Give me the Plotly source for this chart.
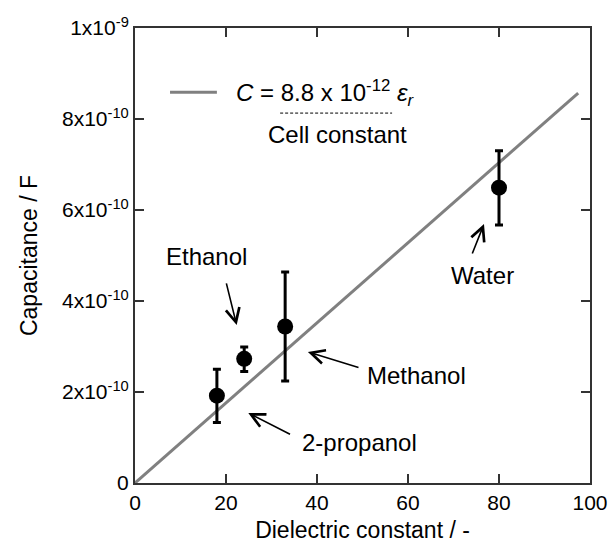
import plotly.graph_objects as go

# ---------------- data ----------------
solvents = ["2-propanol", "Ethanol", "Methanol", "Water"]
dielectric = [18, 24, 33, 80]
capacitance = [1.92e-10, 2.73e-10, 3.44e-10, 6.49e-10]
err_plus = [0.58e-10, 0.26e-10, 1.20e-10, 0.81e-10]
err_minus = [0.59e-10, 0.28e-10, 1.20e-10, 0.82e-10]

cell_constant = 8.8e-12
fit_x = [0, 97.4]
fit_y = [cell_constant * v for v in fit_x]

x_ticks = [0, 20, 40, 60, 80, 100]
y_ticks = [0, 2e-10, 4e-10, 6e-10, 8e-10, 1e-9]
y_ticktext = ["0", "2x10<sup>-10</sup>", "4x10<sup>-10</sup>", "6x10<sup>-10</sup>",
              "8x10<sup>-10</sup>", "1x10<sup>-9</sup>"]

FONT = "Liberation Sans, Arial, sans-serif"
AX = "#333333"

fig = go.Figure()
fig.add_trace(go.Scatter(
    x=fit_x, y=fit_y, mode="lines",
    line=dict(color="#808080", width=3), showlegend=False, hoverinfo="skip"))
fig.add_trace(go.Scatter(
    x=dielectric, y=capacitance, mode="markers", text=solvents,
    marker=dict(color="black", size=16),
    error_y=dict(type="data", symmetric=False, array=err_plus, arrayminus=err_minus,
                 color="black", thickness=3, width=4),
    showlegend=False))

# legend-like key
fig.add_shape(type="line", xref="x", yref="y", x0=7.7, x1=18.0, y0=0.8586e-9, y1=0.8586e-9,
              line=dict(color="#808080", width=3))
fig.add_shape(type="line", xref="x", yref="y", x0=31.9, x1=56.5, y0=0.813e-9, y1=0.813e-9,
              line=dict(color="black", width=1, dash="3px,2px"))

annos = []
annos.append(dict(x=21.8, y=0.857e-9, xanchor="left", yanchor="middle",
                  text="<i>C</i> = 8.8 x 10<sup>-12</sup> <i>ε<sub>r</sub></i>",
                  font=dict(size=24, color="black", family=FONT), showarrow=False))
annos.append(dict(x=44.5, y=0.765e-9, xanchor="center", yanchor="middle",
                  text="Cell constant",
                  font=dict(size=24, color="black", family=FONT), showarrow=False))

# labels
labels = [
    ("Ethanol", 15.8, 0.497e-9, "center"),
    ("Methanol", 50.5, 0.237e-9, "left"),
    ("2-propanol", 36.3, 0.090e-9, "left"),
    ("Water", 76.4, 0.457e-9, "center"),
]
for t, lx, ly, anc in labels:
    annos.append(dict(x=lx, y=ly, xanchor=anc, yanchor="middle", text=t,
                      font=dict(size=24, color="black", family=FONT), showarrow=False))

# arrows (tail -> tip)
arrows = [
    ((20.0, 0.442e-9), (22.35, 0.347e-9)),
    ((49.45, 0.253e-9), (38.0, 0.288e-9)),
    ((34.4, 0.1055e-9), (24.9, 0.154e-9)),
    ((74.0, 0.501e-9), (76.7, 0.569e-9)),
]
for (tx, ty), (hx, hy) in arrows:
    annos.append(dict(x=hx, y=hy, ax=tx, ay=ty, xref="x", yref="y", axref="x", ayref="y",
                      text="", showarrow=True, arrowhead=5, arrowsize=1.7, arrowwidth=1.6,
                      arrowcolor="black", standoff=0, startstandoff=0))

fig.update_layout(
    width=613, height=543,
    margin=dict(l=135, r=23, t=28, b=60),
    paper_bgcolor="white", plot_bgcolor="white",
    font=dict(family=FONT, size=21, color="black"),
    annotations=annos,
    xaxis=dict(range=[0, 100], tickvals=x_ticks, ticks="inside", ticklen=9, tickwidth=1.5,
               tickcolor=AX, showline=True, linecolor=AX, linewidth=2, mirror="ticks",
               showgrid=False, zeroline=False, automargin=False,
               title=dict(text="Dielectric constant / -", font=dict(size=23), standoff=12),
               tickfont=dict(size=21)),
    yaxis=dict(range=[0, 1e-9], tickvals=y_ticks, ticktext=y_ticktext, ticks="inside",
               ticklen=9, tickwidth=1.5, tickcolor=AX, showline=True, linecolor=AX,
               linewidth=2, mirror="ticks", showgrid=False, zeroline=False, automargin=False,
               title=dict(text="Capacitance / F", font=dict(size=23), standoff=18),
               tickfont=dict(size=21)),
)

fig.write_html("out.html")
